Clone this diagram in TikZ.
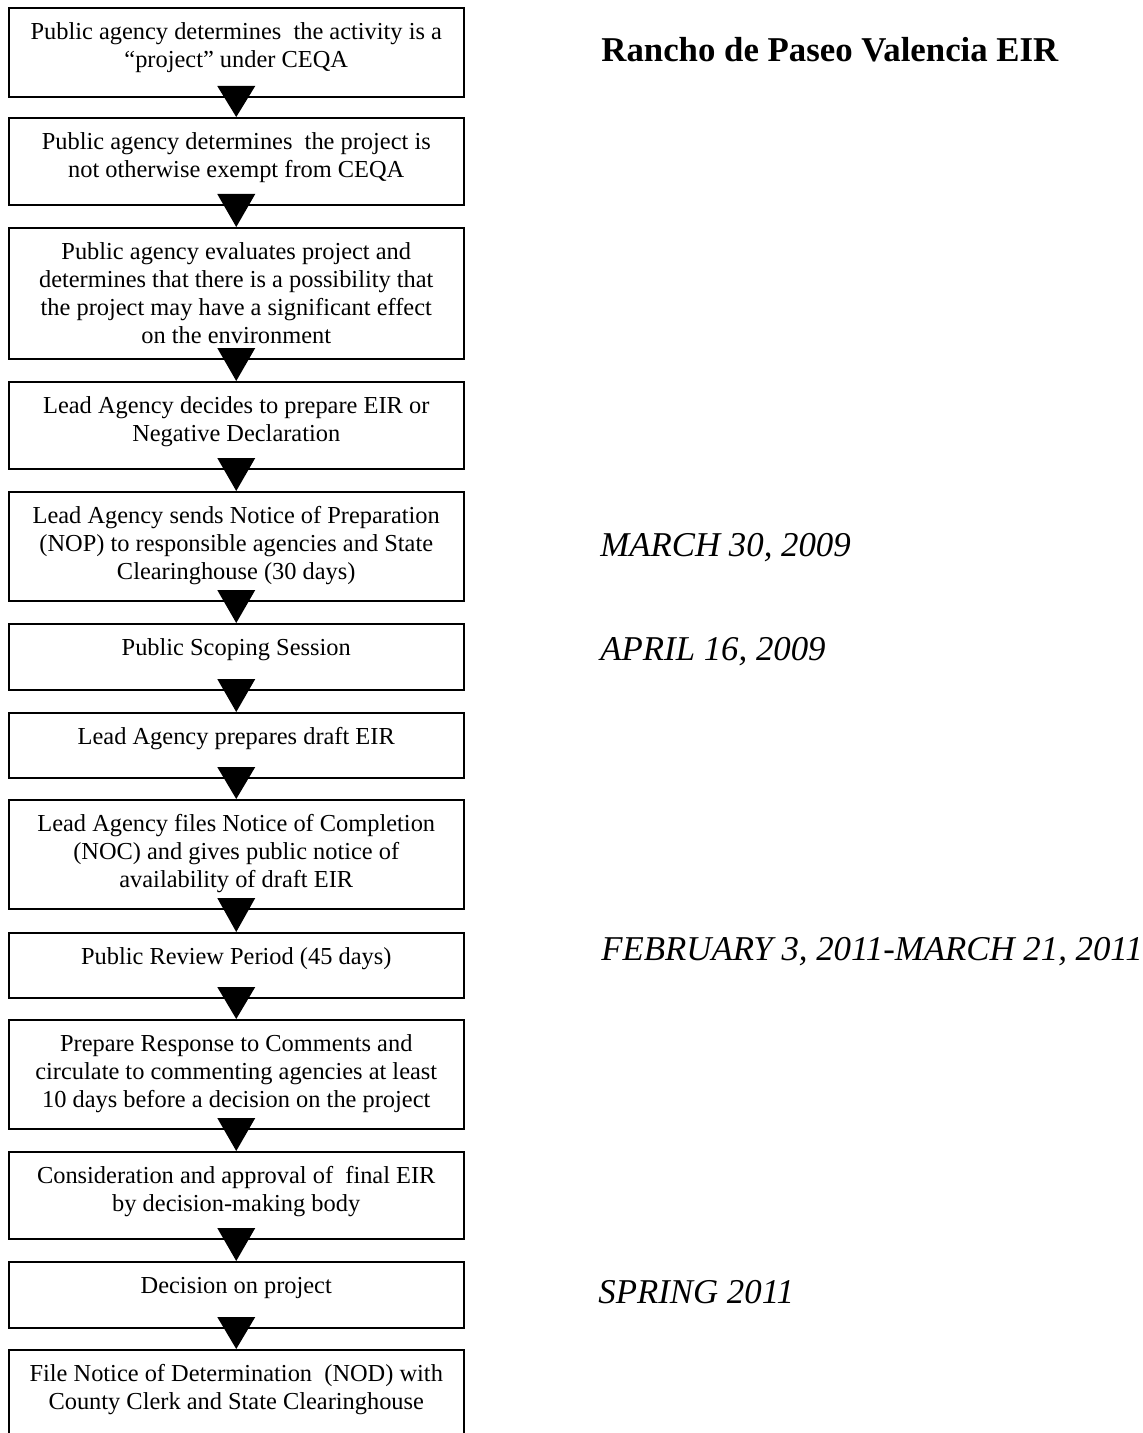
\documentclass[tikz,border=0pt]{standalone}
\usepackage{fontspec}
\setmainfont{Liberation Serif}
\usetikzlibrary{calc}
\tikzset{stepbox/.style={shape=rectangle,draw=black,line width=1pt,minimum width=227.75pt,inner sep=0pt,anchor=north}}
\tikzset{steptext/.style={anchor=north,yshift=-6.2pt,align=center,inner sep=0pt,font=\fontsize{12.2}{14}\selectfont}}
\tikzset{datetext/.style={anchor=base west,inner sep=0pt,font=\fontsize{17.4}{20}\selectfont\itshape}}
\tikzset{connector/.style={fill=black}}

\begin{document}
\begin{tikzpicture}[x=0.5pt,y=-0.5pt]

\clip (0,0) rectangle (1143,1433);

% the steps
\node[stepbox,minimum height=44.5pt] (s1) at (236.25,7) {};
\node[steptext] (t1) at (s1.north) {\strut Public agency determines~ the activity is a\\ “project” under CEQA};

\node[stepbox,minimum height=43.5pt] (s2) at (236.25,117) {};
\node[steptext] (t2) at (s2.north) {\strut Public agency determines~ the project is\\ not otherwise exempt from CEQA};

\node[stepbox,minimum height=65.5pt] (s3) at (236.25,227) {};
\node[steptext] (t3) at (s3.north) {\strut Public agency evaluates project and\\ determines that there is a possibility that\\ the project may have a significant effect\\ on the environment};

\node[stepbox,minimum height=43.5pt] (s4) at (236.25,381) {};
\node[steptext] (t4) at (s4.north) {\strut Lead Agency decides to prepare EIR or\\ Negative Declaration};

\node[stepbox,minimum height=54.5pt] (s5) at (236.25,491) {};
\node[steptext] (t5) at (s5.north) {\strut Lead Agency sends Notice of Preparation\\ (NOP) to responsible agencies and State\\ Clearinghouse (30 days)};

\node[stepbox,minimum height=33pt] (s6) at (236.25,623) {};
\node[steptext] (t6) at (s6.north) {\strut Public Scoping Session};

\node[stepbox,minimum height=32.5pt] (s7) at (236.25,712) {};
\node[steptext] (t7) at (s7.north) {\strut Lead Agency prepares draft EIR};

\node[stepbox,minimum height=54.5pt] (s8) at (236.25,799) {};
\node[steptext] (t8) at (s8.north) {\strut Lead Agency files Notice of Completion\\ (NOC) and gives public notice of\\ availability of draft EIR};

\node[stepbox,minimum height=32.5pt] (s9) at (236.25,932) {};
\node[steptext] (t9) at (s9.north) {\strut Public Review Period (45 days)};

\node[stepbox,minimum height=54.5pt] (s10) at (236.25,1019) {};
\node[steptext] (t10) at (s10.north) {\strut Prepare Response to Comments and\\ circulate to commenting agencies at least\\ 10 days before a decision on the project};

\node[stepbox,minimum height=43.5pt] (s11) at (236.25,1151) {};
\node[steptext] (t11) at (s11.north) {\strut Consideration and approval of~ final EIR\\ by decision-making body};

\node[stepbox,minimum height=33pt] (s12) at (236.25,1261) {};
\node[steptext] (t12) at (s12.north) {\strut Decision on project};

\node[stepbox,minimum height=60pt] (s13) at (236.25,1349) {};
\node[steptext] (t13) at (s13.north) {\strut File Notice of Determination~ (NOD) with\\ County Clerk and State Clearinghouse};

% triangles between the steps
\foreach \a/\b in {s1/s2,s2/s3,s3/s4,s4/s5,s5/s6,s6/s7,s7/s8,s8/s9,s9/s10,s10/s11,s11/s12,s12/s13}
  \fill[connector] ($(\a.south)+(-19,-12)$) -- ($(\a.south)+(19,-12)$) -- (\b.north) -- cycle;

% title and dates
\node[anchor=base west,inner sep=0pt,font=\fontsize{17.4}{20}\selectfont\bfseries] (title) at (601,62) {Rancho de Paseo Valencia EIR};
\node[datetext] (d1) at (600,556) {MARCH 30, 2009};
\node[datetext] (d2) at (600,660) {APRIL 16, 2009};
\node[datetext] (d3) at (601,960) {FEBRUARY 3, 2011-MARCH 21, 2011};
\node[datetext] (d4) at (598,1303) {SPRING 2011};

\end{tikzpicture}
\end{document}
